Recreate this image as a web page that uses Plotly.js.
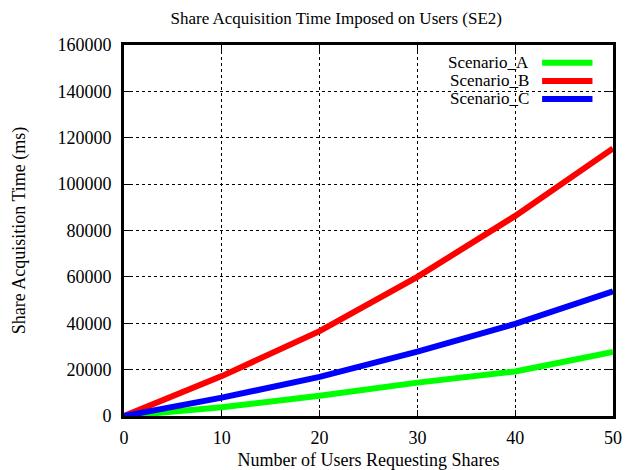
<!DOCTYPE html>
<html>
<head>
<meta charset="utf-8">
<script src="https://cdn.plot.ly/plotly-3.0.1.min.js"></script>
<style>html,body{margin:0;padding:0;background:#fff;}#chart{width:625px;height:470px;}</style>
</head>
<body>
<div id="chart"></div>
<script>
const users = [0, 10, 20, 30, 40, 50];
const scenarioA = [0, 3800, 8700, 14400, 19200, 27600];
const scenarioB = [0, 17200, 36600, 60000, 86300, 115400];
const scenarioC = [0, 7900, 16900, 27800, 39700, 53800];
const seriesNames = ["Scenario_A", "Scenario_B", "Scenario_C"];
const seriesColors = ["#00ff00", "#ff0000", "#0000ff"];
const seriesValues = [scenarioA, scenarioB, scenarioC];
const yTicks = [0, 20000, 40000, 60000, 80000, 100000, 120000, 140000, 160000];
const xTicks = [0, 10, 20, 30, 40, 50];

const font = "Liberation Serif, Times New Roman, serif";

const traces = seriesNames.map((n, i) => ({
  x: users, y: seriesValues[i], name: n, type: "scatter", mode: "lines",
  line: {color: seriesColors[i], width: 6}, showlegend: false
}));

// custom legend (text left of sample, like gnuplot)
const annotations = [];
const shapes = [{type: "rect", xref: "paper", yref: "paper", x0: 0.6, x1: 0.99, y0: 0.83, y1: 0.978,
  fillcolor: "#fff", line: {width: 0}, layer: "between"}];
seriesNames.forEach((n, i) => {
  const yy = 0.952 - i * 0.0487;
  annotations.push({xref: "paper", yref: "paper", x: 0.832, y: yy, xanchor: "right", yanchor: "middle",
    text: n, showarrow: false, font: {family: font, size: 17, color: "#000"}});
  shapes.push({type: "line", xref: "paper", yref: "paper", x0: 0.855, x1: 0.958, y0: yy, y1: yy,
    line: {color: seriesColors[i], width: 6}});
});

const layout = {
  width: 625, height: 470,
  margin: {l: 124, r: 12, t: 45, b: 54},
  paper_bgcolor: "#fff", plot_bgcolor: "#fff",
  font: {family: font, size: 18, color: "#000"},
  title: {text: "Share Acquisition Time Imposed on Users (SE2)", x: 0.538, xanchor: "center", y: 0.962, yanchor: "middle",
    font: {family: font, size: 17, color: "#000"}},
  xaxis: {
    range: [0, 50], tickvals: xTicks, ticktext: xTicks.map(String),
    showline: true, linecolor: "#000", linewidth: 3, mirror: "ticks",
    ticks: "inside", ticklen: 6, tickcolor: "#000", tickwidth: 1,
    showgrid: true, gridcolor: "#000", gridwidth: 1, griddash: "dot",
    zeroline: false, ticklabelstandoff: 3,
    tickfont: {family: font, size: 18},
    title: {text: "Number of Users Requesting Shares", standoff: 8, font: {family: font, size: 18}}
  },
  yaxis: {
    range: [0, 160000], tickvals: yTicks, ticktext: yTicks.map(String),
    showline: true, linecolor: "#000", linewidth: 3, mirror: "ticks",
    ticks: "inside", ticklen: 6, tickcolor: "#000", tickwidth: 1,
    showgrid: true, gridcolor: "#000", gridwidth: 1, griddash: "dot",
    zeroline: false, ticklabelstandoff: 6,
    tickfont: {family: font, size: 18},
    title: {text: "Share Acquisition Time (ms)", standoff: 28, font: {family: font, size: 18}}
  },
  annotations: annotations,
  shapes: shapes
};

Plotly.newPlot("chart", traces, layout, {displayModeBar: false, staticPlot: true});
</script>
</body>
</html>
